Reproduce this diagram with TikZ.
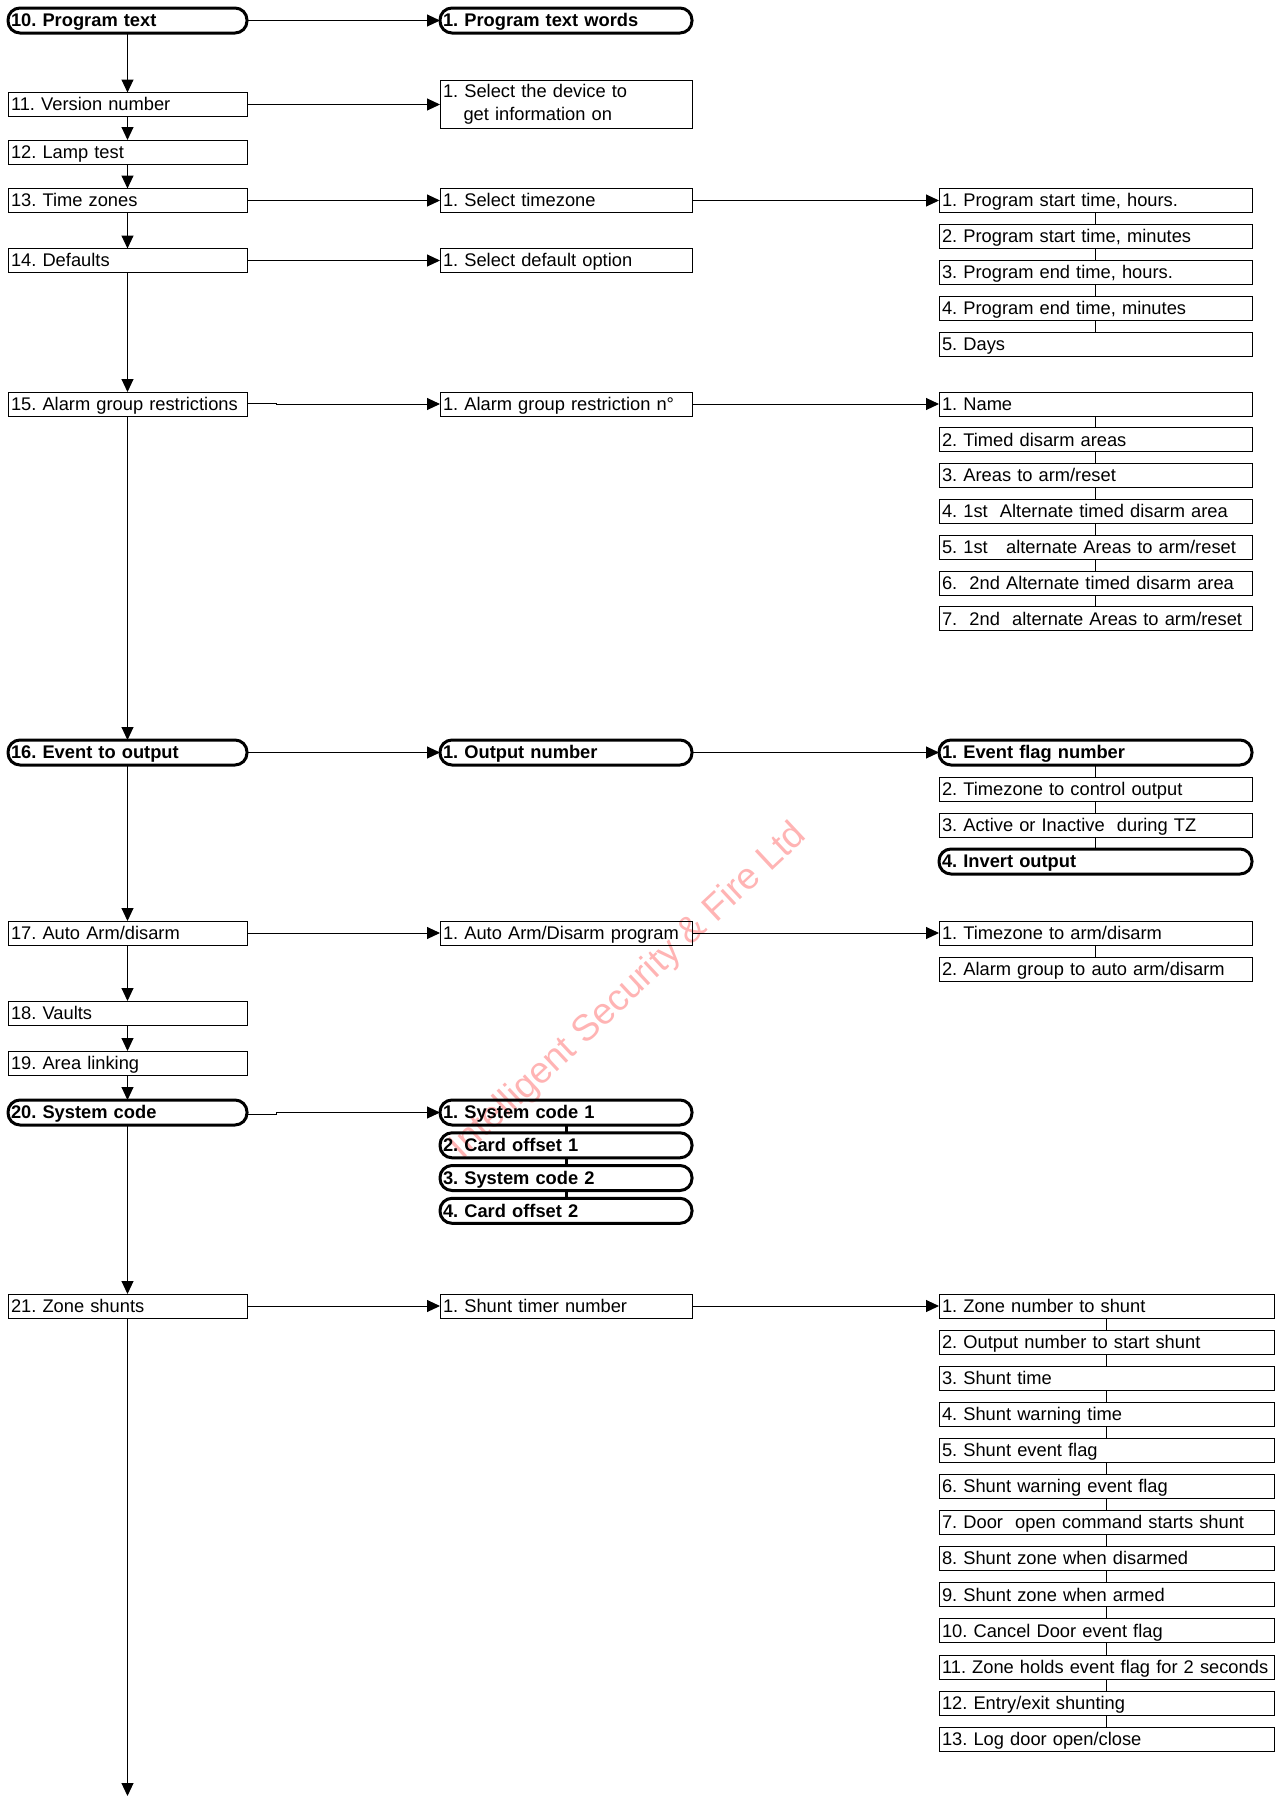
\documentclass[tikz,border=0pt]{standalone}
\usepackage{fontspec}
\setmainfont{Liberation Sans}
\usetikzlibrary{arrows.meta}
\newcommand\fsz{\fontsize{18.3}{23}\selectfont}
\definecolor{wmred}{RGB}{255,180,180}
\begin{document}
\frenchspacing
\hyphenpenalty=10000
\exhyphenpenalty=10000
\begin{tikzpicture}[x=1pt,y=-1pt,
  every node/.style={outer sep=0pt},
  base/.style={draw=black, rectangle, inner xsep=3pt, inner ysep=0pt, font=\fsz, align=left, anchor=west},
  tb/.style={base, line width=1pt, minimum height=24pt, text height=15pt, text depth=2.6pt},
  rb/.style={tb, line width=3pt, rounded corners=12pt, minimum height=25pt, font=\fsz\bfseries},
  mb/.style={base, line width=1pt, minimum height=48pt},
  lc/.style={text width=233pt},
  mc/.style={text width=246pt},
  rc/.style={text width=307pt},
  sc/.style={text width=329pt},
  ar/.style={line width=1pt, -{Triangle[length=13pt,width=12pt]}},
  ln/.style={line width=1pt},
  bln/.style={line width=3pt},
]
\useasboundingbox (0,0) rectangle (1283,1796);

% watermark
\node[rotate=43, anchor=base west, font=\fontsize{37}{40}\selectfont, text=wmred, inner sep=0pt] (wm) at (462,1160) {Intelligent Security \& Fire Ltd};

% left column
\node[rb,lc] (n10) at (8,20.5) {10. Program text};
\node[tb,lc] (n11) at (8,104.5) {11. Version number};
\node[tb,lc] (n12) at (8,152) {12. Lamp test};
\node[tb,lc] (n13) at (8,200.5) {13. Time zones};
\node[tb,lc] (n14) at (8,260.5) {14. Defaults};
\node[tb,lc] (n15) at (8,404) {15. Alarm group restrictions};
\node[rb,lc] (n16) at (8,752.5) {16. Event to output};
\node[tb,lc] (n17) at (8,933) {17. Auto Arm/disarm};
\node[tb,lc] (n18) at (8,1013) {18. Vaults};
\node[tb,lc] (n19) at (8,1063) {19. Area linking};
\node[rb,lc] (n20) at (8,1112.5) {20. System code};
\node[tb,lc] (n21) at (8,1306) {21. Zone shunts};
\coordinate (bot) at (127.5,1796);

% middle column
\node[rb,mc] (m10) at (440,20.5) {1. Program text words};
\node[mb,mc] (m11) at (440,104.5) {1. Select the device to\\\hspace*{20.5pt}get information on};
\node[tb,mc] (m13) at (440,200.5) {1. Select timezone};
\node[tb,mc] (m14) at (440,260.5) {1. Select default option};
\node[tb,mc] (m15) at (440,404) {1. Alarm group restriction n°};
\node[rb,mc] (m16) at (440,752.5) {1. Output number};
\node[tb,mc] (m17) at (440,933) {1. Auto Arm/Disarm program};
\node[rb,mc] (m20a) at (440,1112.5) {1. System code 1};
\node[rb,mc] (m20b) at (440,1145.3) {2. Card offset 1};
\node[rb,mc] (m20c) at (440,1178) {3. System code 2};
\node[rb,mc] (m20d) at (440,1210.8) {4. Card offset 2};
\node[tb,mc] (m21) at (440,1306) {1. Shunt timer number};

% right column: time zones
\node[tb,rc] (r13a) at (939,200.5) {1. Program start time, hours.};
\node[tb,rc] (r13b) at (939,236.5) {2. Program start time, minutes};
\node[tb,rc] (r13c) at (939,272.5) {3. Program end time, hours.};
\node[tb,rc] (r13d) at (939,308.5) {4. Program end time, minutes};
\node[tb,rc] (r13e) at (939,344.5) {5. Days};

% right column: alarm group restrictions
\node[tb,rc] (r15a) at (939,404) {1. Name};
\node[tb,rc] (r15b) at (939,439.8) {2. Timed disarm areas};
\node[tb,rc] (r15c) at (939,475.6) {3. Areas to arm/reset};
\node[tb,rc] (r15d) at (939,511.4) {4. 1st~~Alternate timed disarm area};
\node[tb,rc] (r15e) at (939,547.2) {5. 1st~~~alternate Areas to arm/reset};
\node[tb,rc] (r15f) at (939,583) {6.~~2nd Alternate timed disarm area};
\node[tb,rc] (r15g) at (939,618.8) {7.~~2nd~~alternate Areas to arm/reset};

% right column: event to output
\node[rb,rc] (r16a) at (939,752.5) {1. Event flag number};
\node[tb,rc] (r16b) at (939,789) {2. Timezone to control output};
\node[tb,rc] (r16c) at (939,825) {3. Active or Inactive~~during TZ};
\node[rb,rc] (r16d) at (939,861.5) {4. Invert output};

% right column: auto arm
\node[tb,rc] (r17a) at (939,933) {1. Timezone to arm/disarm};
\node[tb,rc] (r17b) at (939,969) {2. Alarm group to auto arm/disarm};

% right column: zone shunts
\node[tb,sc] (s1) at (939,1306) {1. Zone number to shunt};
\node[tb,sc] (s2) at (939,1342.1) {2. Output number to start shunt};
\node[tb,sc] (s3) at (939,1378.2) {3. Shunt time};
\node[tb,sc] (s4) at (939,1414.3) {4. Shunt warning time};
\node[tb,sc] (s5) at (939,1450.4) {5. Shunt event flag};
\node[tb,sc] (s6) at (939,1486.5) {6. Shunt warning event flag};
\node[tb,sc] (s7) at (939,1522.6) {7. Door~~open command starts shunt};
\node[tb,sc] (s8) at (939,1558.7) {8. Shunt zone when disarmed};
\node[tb,sc] (s9) at (939,1594.8) {9. Shunt zone when armed};
\node[tb,sc] (s10) at (939,1630.9) {10. Cancel Door event flag};
\node[tb,sc] (s11) at (939,1667) {\mbox{11. Zone holds event flag for 2 seconds}};
\node[tb,sc] (s12) at (939,1703.1) {12. Entry/exit shunting};
\node[tb,sc] (s13) at (939,1739.2) {13. Log door open/close};

% vertical arrows, left column
\foreach \a/\b in {n10/n11,n11/n12,n12/n13,n13/n14,n14/n15,n15/n16,n16/n17,n17/n18,n18/n19,n19/n20,n20/n21}
  \draw[ar] (\a.south) -- (\b.north);
\draw[ar] (n21.south) -- (bot);

% horizontal arrows
\draw[ar] (n10.east) -- (m10.west);
\draw[ar] (n11.east) -- (m11.west);
\draw[ar] (n13.east) -- (m13.west);
\draw[ar] (m13.east) -- (r13a.west);
\draw[ar] (n14.east) -- (m14.west);
\draw[ar] ([yshift=1pt]n15.east) -- ++(29,0) |- (m15.west);
\draw[ar] (m15.east) -- (r15a.west);
\draw[ar] (n16.east) -- (m16.west);
\draw[ar] (m16.east) -- (r16a.west);
\draw[ar] (n17.east) -- (m17.west);
\draw[ar] (m17.east) -- (r17a.west);
\draw[ar] ([yshift=-1.5pt]n20.east) -- ++(29,0) |- (m20a.west);
\draw[ar] (n21.east) -- (m21.west);
\draw[ar] (m21.east) -- (s1.west);

% list connectors
\foreach \a/\b in {r13a/r13b,r13b/r13c,r13c/r13d,r13d/r13e,
  r15a/r15b,r15b/r15c,r15c/r15d,r15d/r15e,r15e/r15f,r15f/r15g,
  r16a/r16b,r16b/r16c,r16c/r16d,r17a/r17b,
  s1/s2,s2/s3,s3/s4,s4/s5,s5/s6,s6/s7,s7/s8,s8/s9,s9/s10,s10/s11,s11/s12,s12/s13}
  \draw[ln] (\a.south) -- (\b.north);
\foreach \a/\b in {m20a/m20b,m20b/m20c,m20c/m20d}
  \draw[bln] (\a.south) -- (\b.north);
\end{tikzpicture}
\end{document}
